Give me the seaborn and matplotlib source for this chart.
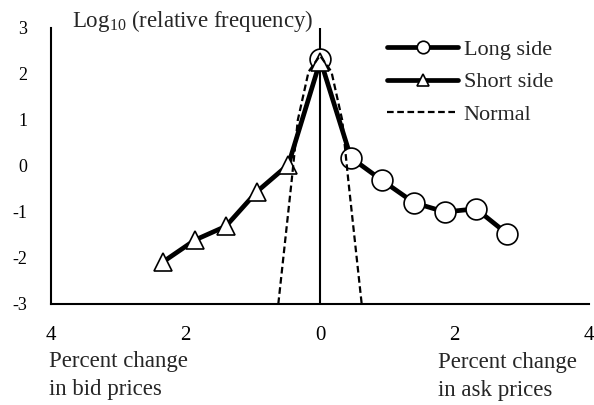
import numpy as np
import pandas as pd
import matplotlib
matplotlib.use("Agg")
import matplotlib.pyplot as plt
import seaborn as sns

# ---- data ----
long_x = [0.0, 0.46, 0.92, 1.40, 1.86, 2.32, 2.78]
long_y = [2.33, 0.18, -0.31, -0.80, -1.00, -0.93, -1.47]

short_x = [-2.33, -1.86, -1.40, -0.94, -0.47, 0.0]
short_y = [-2.08, -1.61, -1.31, -0.56, 0.03, 2.27]

normal_x = [-0.62, -0.42, -0.33, -0.17, 0.0, 0.17, 0.33, 0.42, 0.62]
normal_y = [-3.0, -0.30, 1.00, 2.05, 2.40, 2.05, 1.00, -0.30, -3.0]

x_ticks = [-4, -2, 0, 2, 4]
x_tick_labels = ["4", "2", "0", "2", "4"]
y_ticks = [-3, -2, -1, 0, 1, 2, 3]
y_tick_labels = ["-3", "-2", "-1", "0", "1", "2", "3"]

sns.set_style("white")
plt.rcParams["font.family"] = ["Liberation Serif", "DejaVu Serif"]
plt.rcParams["mathtext.fontset"] = "custom"
plt.rcParams["mathtext.rm"] = "Liberation Serif"
plt.rcParams["mathtext.it"] = "Liberation Serif:italic"

fig = plt.figure(figsize=(5.94, 4.05), dpi=100)
W, H = 594, 405
ax = fig.add_axes([51 / W, 1 - 304 / H, (589 - 51) / W, (304 - 28) / H])

df_long = pd.DataFrame({"x": long_x, "y": long_y})
df_short = pd.DataFrame({"x": short_x, "y": short_y})
df_norm = pd.DataFrame({"x": normal_x, "y": normal_y})

ax.axvline(0, color="black", lw=1.5, zorder=1)

sns.lineplot(data=df_long, x="x", y="y", ax=ax, color="black", lw=3.4,
             marker="o", markersize=15, markerfacecolor="white",
             markeredgecolor="black", markeredgewidth=1.2,
             label="Long side", zorder=3, sort=False)
sns.lineplot(data=df_short, x="x", y="y", ax=ax, color="black", lw=3.4,
             marker="^", markersize=13, markerfacecolor="white",
             markeredgecolor="black", markeredgewidth=1.2,
             label="Short side", zorder=4, sort=False)
sns.lineplot(data=df_norm, x="x", y="y", ax=ax, color="black", lw=1.6,
             dashes=(3, 1.6), label="Normal", zorder=5, sort=False)

ax.set_xlim(-4, 4)
ax.set_ylim(-3, 3)
ax.set_xticks(x_ticks)
ax.set_xticklabels(x_tick_labels)
ax.set_yticks(y_ticks)
ax.set_yticklabels(y_tick_labels)
ax.set_xlabel("")
ax.set_ylabel("")

for s in ["top", "right"]:
    ax.spines[s].set_visible(False)
for s in ["left", "bottom"]:
    ax.spines[s].set_linewidth(1.5)
    ax.spines[s].set_color("black")

ax.tick_params(axis="x", direction="out", length=5, width=1.5, pad=11,
               colors="black", labelsize=15)
ax.tick_params(axis="y", direction="out", length=6, width=1.5, pad=11,
               colors="black", labelsize=13)

fig.text(72 / W, 1 - 27 / H, r"Log$_{\mathrm{10}}$ (relative frequency)",
         fontsize=16.5, ha="left", va="baseline")

fig.text(49 / W, 1 - 367 / H, "Percent change", fontsize=16.5,
         ha="left", va="baseline")
fig.text(49 / W, 1 - 395 / H, "in bid prices", fontsize=16.5,
         ha="left", va="baseline")
fig.text(438 / W, 1 - 368 / H, "Percent change", fontsize=16.5,
         ha="left", va="baseline")
fig.text(438 / W, 1 - 396 / H, "in ask prices", fontsize=16.5,
         ha="left", va="baseline")

leg = ax.legend(loc="upper left", bbox_to_anchor=(387 / W, 1 - 39 / H),
                bbox_transform=fig.transFigure, frameon=False, fontsize=16,
                handlelength=3.2, handletextpad=0.25, labelspacing=0.55,
                borderpad=0, borderaxespad=0)
for h in leg.legend_handles:
    if h.get_marker() not in (None, "None", ""):
        h.set_markersize(9)

fig.savefig("out.png", dpi=100)
